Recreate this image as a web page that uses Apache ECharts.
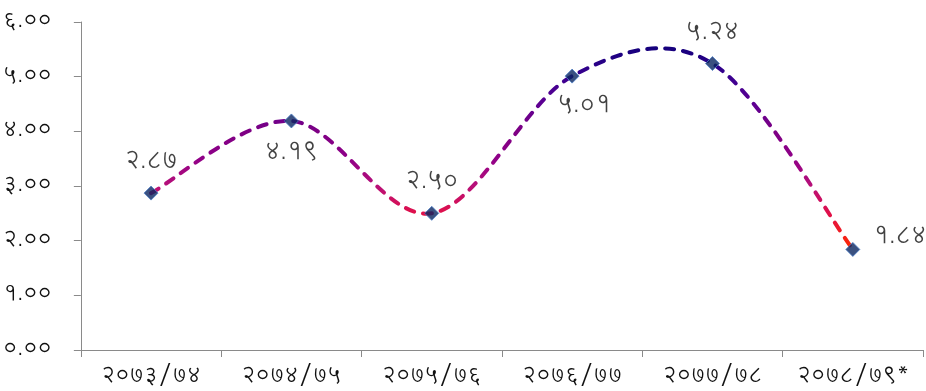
<!DOCTYPE html>
<html>
<head>
<meta charset="utf-8">
<script src="https://cdn.jsdelivr.net/npm/echarts@6/dist/echarts.min.js"></script>
<style>html,body{margin:0;padding:0;background:#fff}#c{width:926px;height:391px}</style>
</head>
<body>
<div id="c"></div>
<script>
const categories = ['२०७३/७४','२०७४/७५','२०७५/७६','२०७६/७७','२०७७/७८','२०७८/७९*'];
const values = [2.87, 4.19, 2.50, 5.01, 5.24, 1.84];
const valueLabels = ['२.८७','४.१९','२.५०','५.०१','५.२४','१.८४'];
const yTickLabels = ['०.००','१.००','२.००','३.००','४.००','५.००','६.००'];
const labelPos = ['top','bottom','top','bottom','top','right'];
const labelOffset = [[0,0],[0,2],[0,0],[12,0],[0,0],[2,-12]];

const FONT = '"Lohit Devanagari","Noto Sans Devanagari","Noto Sans",sans-serif';
// colour by value (vertical gradient of the line)
const gradStops = [[5.55,'#14007c'],[5.0,'#3a0090'],[4.5,'#5e0092'],[4.0,'#7e0084'],[3.5,'#900088'],[3.0,'#b81078'],[2.5,'#e0104a'],[1.84,'#ff2a00']];

function renderCurve(params, api){
  if (params.dataIndex !== 0) return null;
  const P = values.map((v,i)=>api.coord([i, v]));
  let d = 'M' + P[0][0] + ' ' + P[0][1];
  for (let i=0;i<P.length-1;i++){
    const p0 = P[Math.max(0,i-1)], p1 = P[i], p2 = P[i+1], p3 = P[Math.min(P.length-1,i+2)];
    const c1 = [p1[0] + (p2[0]-p0[0])/6, p1[1] + (p2[1]-p0[1])/6];
    const c2 = [p2[0] - (p3[0]-p1[0])/6, p2[1] - (p3[1]-p1[1])/6];
    d += ' C' + c1[0] + ' ' + c1[1] + ' ' + c2[0] + ' ' + c2[1] + ' ' + p2[0] + ' ' + p2[1];
  }
  const yTop = api.coord([0, gradStops[0][0]])[1];
  const yBot = api.coord([0, gradStops[gradStops.length-1][0]])[1];
  const stops = gradStops.map(s=>({offset:(api.coord([0,s[0]])[1]-yTop)/(yBot-yTop), color:s[1]}));
  return {
    type:'path',
    shape:{pathData:d},
    style:{
      fill:null,
      stroke:new echarts.graphic.LinearGradient(0, yTop, 0, yBot, stops, true),
      lineWidth:4, lineDash:[9,9], lineCap:'round'
    }
  };
}

const chart = echarts.init(document.getElementById('c'), null, {renderer:'canvas'});
chart.setOption({
  animation:false,
  grid:{left:80, right:3, top:22, bottom:41},
  xAxis:{
    type:'category', data:categories, boundaryGap:true,
    axisLine:{lineStyle:{color:'#8a8a8a', width:1}},
    axisTick:{show:true, length:7, lineStyle:{color:'#8a8a8a'}},
    axisLabel:{color:'#111', fontSize:22, fontFamily:FONT, margin:16, interval:0}
  },
  yAxis:{
    type:'value', min:0, max:6, interval:1,
    splitLine:{show:false},
    axisLine:{show:true, lineStyle:{color:'#8a8a8a', width:1}},
    axisTick:{show:true, length:7, lineStyle:{color:'#8a8a8a'}},
    axisLabel:{color:'#111', fontSize:22, fontFamily:FONT, margin:29,
      formatter:(v)=> yTickLabels[Math.round(v)]}
  },
  series:[
    {
      type:'custom', renderItem:renderCurve,
      data: values.map((v,i)=>[i,v]), encode:{x:0,y:1},
      clip:false, z:2, silent:true
    },
    {
      type:'scatter', z:3,
      data: values.map((v,i)=>({
        value:v,
        label:{show:true, position:labelPos[i], offset:labelOffset[i], formatter:valueLabels[i]}
      })),
      symbol:'diamond', symbolSize:14,
      itemStyle:{color:'#0a2560', borderColor:'#4a7cc4', borderWidth:1},
      label:{color:'#111', fontSize:24, fontFamily:FONT, distance:11}
    }
  ]
});
</script>
</body>
</html>
